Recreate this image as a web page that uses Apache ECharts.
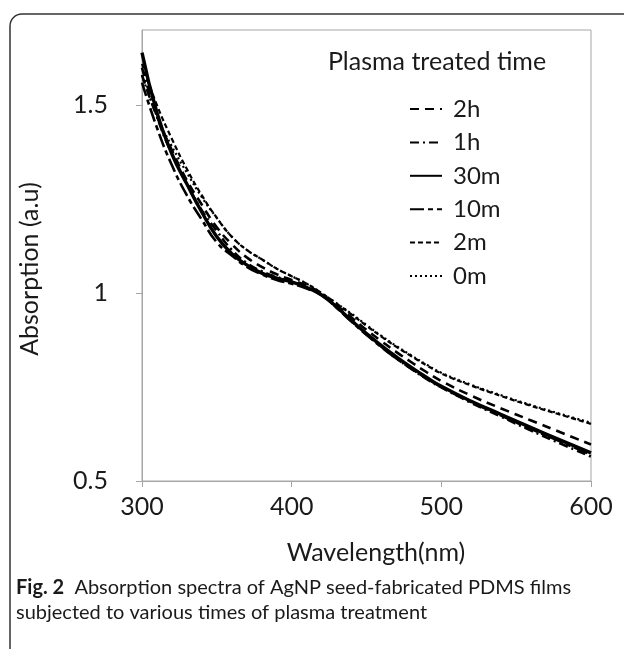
<!DOCTYPE html>
<html>
<head>
<meta charset="utf-8">
<script src="https://cdn.jsdelivr.net/npm/echarts@6/dist/echarts.min.js"></script>
<style>
html,body{margin:0;padding:0;background:#fff;}
#c{width:624px;height:649px;}
</style>
</head>
<body>
<div id="c"></div>
<script>
// Wavelength grid (nm)
var wavelengths = [300,310,320,330,340,350,360,370,380,390,400,410,420,430,440,450,460,470,480,490,500,520,540,560,580,600];
// Series names (plasma treated time)
var seriesNames = ['2h','1h','30m','10m','2m','0m'];
// Absorption values (a.u.)
var abs2h  = [1.58,1.47,1.38,1.30,1.235,1.175,1.13,1.095,1.07,1.05,1.035,1.02,0.998,0.967,0.935,0.902,0.872,0.843,0.816,0.79,0.766,0.727,0.693,0.661,0.629,0.597];
var abs1h  = [1.60,1.47,1.37,1.29,1.22,1.165,1.115,1.08,1.058,1.043,1.03,1.015,0.995,0.962,0.925,0.89,0.857,0.826,0.798,0.772,0.749,0.708,0.671,0.634,0.599,0.565];
var abs30m = [1.64,1.48,1.37,1.29,1.215,1.15,1.105,1.075,1.053,1.04,1.03,1.015,0.995,0.963,0.927,0.892,0.86,0.83,0.802,0.776,0.752,0.712,0.677,0.642,0.608,0.575];
var abs10m = [1.56,1.44,1.34,1.26,1.195,1.135,1.10,1.07,1.05,1.035,1.025,1.012,0.995,0.961,0.924,0.889,0.856,0.826,0.799,0.773,0.75,0.71,0.674,0.638,0.604,0.57];
var abs2m  = [1.61,1.50,1.41,1.33,1.26,1.20,1.15,1.115,1.09,1.065,1.045,1.025,1.0,0.972,0.943,0.913,0.884,0.857,0.832,0.808,0.786,0.754,0.726,0.70,0.676,0.652];
var abs0m  = [1.58,1.47,1.39,1.32,1.255,1.20,1.15,1.115,1.09,1.065,1.045,1.025,1.0,0.973,0.945,0.915,0.886,0.859,0.834,0.81,0.788,0.756,0.728,0.702,0.678,0.655];
// Axis ticks
var xTicks = [300,400,500,600];
var yTicks = [0.5,1,1.5];

var seriesValues = [abs2h, abs1h, abs30m, abs10m, abs2m, abs0m];
var lineStyles = [
  {type:[9,6], width:2.6},
  {type:[9,4,2,4], width:2.6},
  {type:'solid', width:3.4},
  {type:[14,4,5,4], width:2.6},
  {type:[5,3], width:2.2},
  {type:[2,3], width:2.2}
];

function zip(xs, ys){ return xs.map(function(x,i){ return [x, ys[i]]; }); }

var FONT = 'Lato, "Open Sans", sans-serif';
var chart = echarts.init(document.getElementById('c'), null, {renderer:'canvas'});
var series = seriesNames.map(function(n, i){
  return {
    name: n, type: 'line', smooth: true, showSymbol: false, symbol: 'none',
    data: zip(wavelengths, seriesValues[i]),
    lineStyle: Object.assign({color:'#000', cap:'butt'}, lineStyles[i]),
    itemStyle: {color:'#000'},
    animation: false, z: 3
  };
});

chart.setOption({
  animation: false,
  backgroundColor: '#fff',
  grid: {left:142, right:33, top:30, bottom:168, show:true, borderColor:'#a6a6a6', borderWidth:1, backgroundColor:'transparent'},
  xAxis: {
    type:'value', min:300, max:600, interval:100,
    axisLine:{show:true, lineStyle:{color:'#a6a6a6', width:1}},
    axisTick:{show:true, inside:false, length:6, lineStyle:{color:'#a6a6a6'}, customValues: xTicks},
    axisLabel:{color:'#1a1a1a', fontSize:25, fontFamily:FONT, margin:13, customValues: xTicks},
    splitLine:{show:false}
  },
  yAxis: {
    type:'value', min:0.5, max:1.7, interval:0.5,
    axisLine:{show:true, lineStyle:{color:'#a6a6a6', width:1}},
    axisTick:{show:true, inside:false, length:6, lineStyle:{color:'#a6a6a6'}, customValues: yTicks},
    axisLabel:{color:'#1a1a1a', fontSize:25, fontFamily:FONT, margin:34, customValues: yTicks,
      formatter:function(v){ return (Math.abs(v*2-Math.round(v*2))<1e-6) ? String(v) : ''; }},
    splitLine:{show:false}
  },
  legend: {
    orient:'vertical', left:404, top:92, itemWidth:32, itemHeight:14, itemGap:9.4,
    itemStyle:{color:'rgba(0,0,0,0)', borderColor:'rgba(0,0,0,0)', borderWidth:0},
    textStyle:{color:'#1a1a1a', fontSize:24, fontFamily:FONT, lineHeight:23, padding:[0,0,0,6]},
    data: seriesNames
  },
  series: series,
  graphic: [
    {type:'rect', shape:{x:10, y:14, width:700, height:700, r:12}, style:{fill:'none', stroke:'#333', lineWidth:1.5}, silent:true},
    {type:'text', x:437, y:62, style:{text:'Plasma treated time', font:'25px '+FONT, fill:'#1a1a1a', align:'center', verticalAlign:'middle'}},
    {type:'text', x:30, y:269, rotation:Math.PI/2, style:{text:'Absorption (a.u)', font:'25px '+FONT, fill:'#1a1a1a', align:'center', verticalAlign:'middle'}},
    {type:'text', x:376, y:553, style:{text:'Wavelength(nm)', font:'25px '+FONT, fill:'#1a1a1a', align:'center', verticalAlign:'middle'}},
    {type:'text', x:16, y:588, style:{
      text:'{b|Fig. 2}  Absorption spectra of AgNP seed-fabricated PDMS films',
      rich:{b:{font:'bold 20px '+FONT, fill:'#1a1a1a'}},
      font:'20px '+FONT, fill:'#1a1a1a', align:'left', verticalAlign:'middle'}},
    {type:'text', x:16, y:613, style:{text:'subjected to various times of plasma treatment', font:'20px '+FONT, fill:'#1a1a1a', align:'left', verticalAlign:'middle'}}
  ]
});
</script>
</body>
</html>
